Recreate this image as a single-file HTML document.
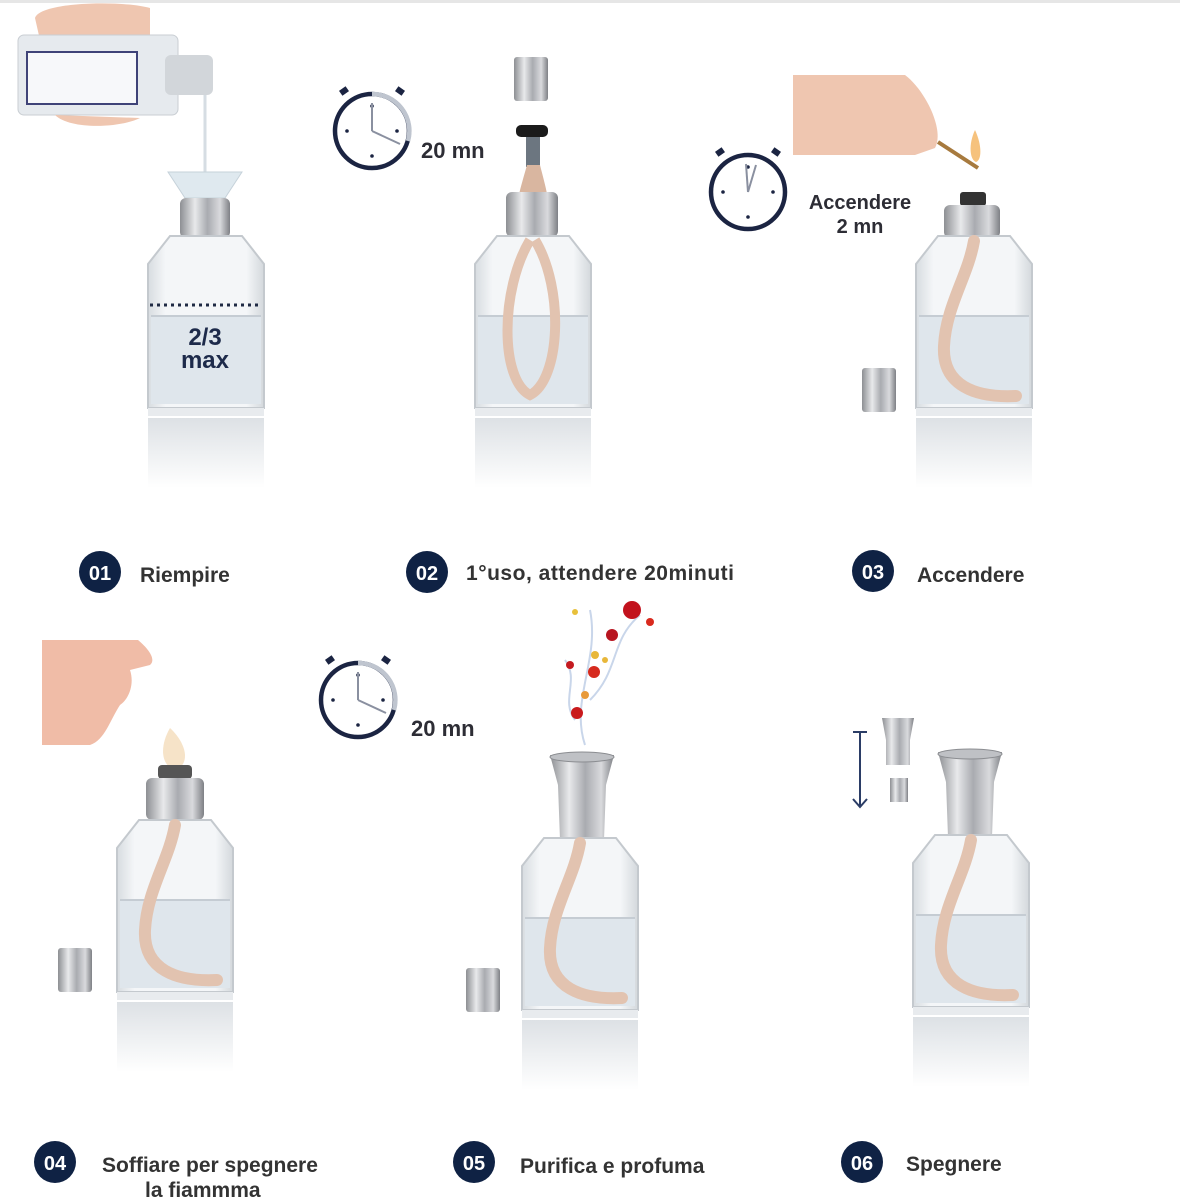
<!DOCTYPE html>
<html><head><meta charset="utf-8"><style>
html,body{margin:0;padding:0;background:#fff;}
svg{display:block;}
text{font-family:"Liberation Sans",sans-serif;}
</style></head><body>
<svg width="1180" height="1200" viewBox="0 0 1180 1200" xmlns="http://www.w3.org/2000/svg">
<defs>
 <linearGradient id="silver" x1="0" x2="1">
  <stop offset="0" stop-color="#8d8f93"/><stop offset="0.3" stop-color="#e8e9eb"/><stop offset="0.55" stop-color="#a9abb0"/><stop offset="0.8" stop-color="#d9dadd"/><stop offset="1" stop-color="#7e8085"/>
 </linearGradient>
 <linearGradient id="glass" x1="0" x2="1">
  <stop offset="0" stop-color="#d7dce0"/><stop offset="0.15" stop-color="#f4f6f8"/><stop offset="0.85" stop-color="#f4f6f8"/><stop offset="1" stop-color="#d3d8dc"/>
 </linearGradient>
 <linearGradient id="refl" x1="0" y1="0" x2="0" y2="1">
  <stop offset="0" stop-color="#dde1e5"/><stop offset="1" stop-color="#ffffff"/>
 </linearGradient>
 <g id="bottle">
  <path d="M0,28 L22,0 H94 L116,28 V172 H0 Z" fill="url(#glass)" stroke="#c4c9ce" stroke-width="2"/>
  <rect x="3" y="80" width="110" height="88" fill="#dfe6ec"/>
  <line x1="3" y1="80" x2="113" y2="80" stroke="#c5ccd3" stroke-width="2"/>
  <rect x="0" y="172" width="116" height="8" fill="#e8ebee"/>
  <rect x="0" y="182" width="116" height="70" fill="url(#refl)"/>
 </g>
 <g id="wick">
  <path d="M58,5 C52,40 30,70 28,110 C26,150 60,162 100,160" fill="none" stroke="#e2c3b0" stroke-width="12" stroke-linecap="round"/>
 </g>
 <g id="smallcap">
  <rect x="0" y="0" width="34" height="44" rx="3" fill="url(#silver)"/>
 </g>
 <g id="tulip">
  <path d="M0,0 H64 L56,30 L54,85 H10 L8,30 Z" fill="url(#silver)"/>
  <ellipse cx="32" cy="2" rx="32" ry="5" fill="#bfc1c5" stroke="#8b8d91"/>
 </g>
 <g id="dots">
  <circle cx="0" cy="-25" r="1.8" fill="#1b2442"/><circle cx="25" cy="0" r="1.8" fill="#1b2442"/>
  <circle cx="0" cy="25" r="1.8" fill="#1b2442"/><circle cx="-25" cy="0" r="1.8" fill="#1b2442"/>
 </g>
</defs>

<rect x="0" y="0" width="1180" height="3" fill="#e6e6e6"/>

<!-- STEP 1 -->
<path d="M35,18 C40,2 120,0 150,8 L150,40 L40,40 Z" fill="#efc6b0"/>
<rect x="18" y="35" width="160" height="80" rx="6" fill="#e6eaee" stroke="#c9ced3"/>
<rect x="27" y="52" width="110" height="52" fill="#f7f8fa" stroke="#3f4378" stroke-width="2"/>
<rect x="165" y="55" width="48" height="40" rx="6" fill="#d2d6da"/>
<path d="M55,115 C70,130 120,128 140,118" fill="#efc6b0"/>
<line x1="205" y1="95" x2="205" y2="178" stroke="#d6dde3" stroke-width="3"/>
<path d="M168,172 H242 L225,198 H185 Z" fill="#dfe9ef" stroke="#c6d2da"/>
<rect x="180" y="198" width="50" height="40" rx="6" fill="url(#silver)"/>
<use href="#bottle" x="148" y="236"/>
<line x1="150" y1="305" x2="262" y2="305" stroke="#1f2a44" stroke-width="3" stroke-dasharray="3,4"/>
<text x="205" y="345" text-anchor="middle" font-size="24" font-weight="bold" fill="#1d2a4a">2/3</text>
<text x="205" y="368" text-anchor="middle" font-size="24" font-weight="bold" fill="#1d2a4a">max</text>

<!-- STEP 2 -->
<g transform="translate(372,131)">
 <circle r="37" fill="none" stroke="#1b2442" stroke-width="4.5"/>
 <path d="M0,-37 A37,37 0 0 1 36,10" fill="none" stroke="#bfc5cf" stroke-width="4.5"/>
 <use href="#dots"/>
 <line x1="0" y1="0" x2="0" y2="-28" stroke="#8a90a0" stroke-width="2"/>
 <line x1="0" y1="0" x2="28" y2="13" stroke="#8a90a0" stroke-width="2"/>
 <rect x="-32" y="-43" width="8" height="6" fill="#1b2442" transform="rotate(-35 -28 -40)"/>
 <rect x="24" y="-43" width="8" height="6" fill="#1b2442" transform="rotate(35 28 -40)"/>
</g>
<text x="421" y="158" font-size="22" font-weight="bold" fill="#2d2d35">20 mn</text>
<rect x="514" y="57" width="34" height="44" rx="3" fill="url(#silver)"/>
<rect x="516" y="125" width="32" height="12" rx="5" fill="#1b1b1b"/>
<rect x="526" y="137" width="14" height="30" fill="#6c7680"/>
<path d="M527,165 C520,190 515,205 518,215 L548,215 C550,200 545,185 540,165 Z" fill="#d9b6a0"/>
<rect x="506" y="192" width="52" height="45" rx="6" fill="url(#silver)"/>
<use href="#bottle" x="475" y="236"/>
<path d="M530,240 C500,290 500,380 530,395 C560,380 565,290 535,240" fill="none" stroke="#e2c3b0" stroke-width="10"/>

<!-- STEP 3 -->
<g transform="translate(748,192)">
 <circle r="37" fill="none" stroke="#1b2442" stroke-width="4.5"/>
 <use href="#dots"/>
 <line x1="0" y1="0" x2="-2" y2="-28" stroke="#8a90a0" stroke-width="2"/>
 <line x1="0" y1="0" x2="8" y2="-27" stroke="#8a90a0" stroke-width="2"/>
 <rect x="-32" y="-43" width="8" height="6" fill="#1b2442" transform="rotate(-35 -28 -40)"/>
 <rect x="24" y="-43" width="8" height="6" fill="#1b2442" transform="rotate(35 28 -40)"/>
</g>
<text x="860" y="209" text-anchor="middle" font-size="20" font-weight="bold" fill="#2d2d35">Accendere</text>
<text x="860" y="233" text-anchor="middle" font-size="20" font-weight="bold" fill="#2d2d35">2 mn</text>
<path d="M793,75 H905 C925,90 945,130 935,148 L915,155 H793 Z" fill="#efc6b0"/>
<line x1="938" y1="142" x2="978" y2="168" stroke="#a77a3e" stroke-width="4"/>
<path d="M975,130 C968,145 970,160 976,162 C982,160 982,145 975,130 Z" fill="#f6c27d"/>
<rect x="960" y="192" width="26" height="14" rx="3" fill="#333"/>
<rect x="944" y="205" width="56" height="33" rx="6" fill="url(#silver)"/>
<use href="#bottle" x="916" y="236"/>
<use href="#wick" x="916" y="236"/>
<use href="#smallcap" x="862" y="368"/>

<!-- LABELS ROW 1 -->
<g font-size="21" font-weight="bold" fill="#333">
 <circle cx="100" cy="572" r="21" fill="#0f2244"/><text x="100" y="580" text-anchor="middle" fill="#fff" font-size="20">01</text>
 <text x="140" y="582">Riempire</text>
 <circle cx="427" cy="572" r="21" fill="#0f2244"/><text x="427" y="580" text-anchor="middle" fill="#fff" font-size="20">02</text>
 <text x="466" y="580" textLength="268">1°uso, attendere 20minuti</text>
 <circle cx="873" cy="571" r="21" fill="#0f2244"/><text x="873" y="579" text-anchor="middle" fill="#fff" font-size="20">03</text>
 <text x="917" y="582">Accendere</text>
</g>

<!-- STEP 4 -->
<path d="M42,640 H138 C150,650 156,660 150,665 L130,670 C135,685 128,700 120,705 C110,720 105,740 90,745 H42 Z" fill="#f0bca7"/>
<path d="M170,728 C160,745 160,765 175,770 C190,765 188,745 170,728 Z" fill="#f6e3c8"/>
<rect x="158" y="765" width="34" height="14" rx="4" fill="#555"/>
<rect x="146" y="778" width="58" height="42" rx="6" fill="url(#silver)"/>
<use href="#bottle" x="117" y="820"/>
<use href="#wick" x="117" y="820"/>
<use href="#smallcap" x="58" y="948"/>

<g transform="translate(358,700)">
 <circle r="37" fill="none" stroke="#1b2442" stroke-width="4.5"/>
 <path d="M0,-37 A37,37 0 0 1 36,10" fill="none" stroke="#bfc5cf" stroke-width="4.5"/>
 <use href="#dots"/>
 <line x1="0" y1="0" x2="0" y2="-28" stroke="#8a90a0" stroke-width="2"/>
 <line x1="0" y1="0" x2="28" y2="13" stroke="#8a90a0" stroke-width="2"/>
 <rect x="-32" y="-43" width="8" height="6" fill="#1b2442" transform="rotate(-35 -28 -40)"/>
 <rect x="24" y="-43" width="8" height="6" fill="#1b2442" transform="rotate(35 28 -40)"/>
</g>
<text x="411" y="736" font-size="22" font-weight="bold" fill="#2d2d35">20 mn</text>

<!-- STEP 5 -->
<path d="M585,745 C570,700 600,660 590,610" fill="none" stroke="#c9d6ea" stroke-width="2"/>
<path d="M590,700 C620,670 610,640 640,615" fill="none" stroke="#c9d6ea" stroke-width="2"/>
<path d="M575,720 C560,700 580,680 565,660" fill="none" stroke="#c9d6ea" stroke-width="2"/>
<circle cx="632" cy="610" r="9" fill="#c2121d"/>
<circle cx="612" cy="635" r="6" fill="#b81520"/>
<circle cx="594" cy="672" r="6" fill="#d62a1e"/>
<circle cx="570" cy="665" r="4" fill="#c41a20"/>
<circle cx="577" cy="713" r="6" fill="#c91a1d"/>
<circle cx="595" cy="655" r="4" fill="#e8b73a"/>
<circle cx="605" cy="660" r="3" fill="#e8b73a"/>
<circle cx="585" cy="695" r="4" fill="#e89a3a"/>
<circle cx="650" cy="622" r="4" fill="#d92a1e"/>
<circle cx="575" cy="612" r="3" fill="#e8c03a"/>
<use href="#tulip" x="550" y="755"/>
<use href="#bottle" x="522" y="838"/>
<use href="#wick" x="522" y="838"/>
<use href="#smallcap" x="466" y="968"/>

<!-- STEP 6 -->
<line x1="860" y1="732" x2="860" y2="806" stroke="#2b3d66" stroke-width="2"/>
<line x1="853" y1="732" x2="867" y2="732" stroke="#2b3d66" stroke-width="2"/>
<path d="M853,799 L860,807 L867,799" fill="none" stroke="#2b3d66" stroke-width="2"/>
<path d="M882,718 H914 L910,740 V765 H886 V740 Z" fill="url(#silver)"/>
<rect x="890" y="778" width="18" height="24" fill="url(#silver)"/>
<use href="#tulip" x="938" y="752"/>
<use href="#bottle" x="913" y="835"/>
<use href="#wick" x="913" y="835"/>

<!-- LABELS ROW 2 -->
<g font-size="21" font-weight="bold" fill="#333">
 <circle cx="55" cy="1162" r="21" fill="#0f2244"/><text x="55" y="1170" text-anchor="middle" fill="#fff" font-size="20">04</text>
 <text x="102" y="1172">Soffiare per spegnere</text>
 <text x="145" y="1197">la fiammma</text>
 <circle cx="474" cy="1162" r="21" fill="#0f2244"/><text x="474" y="1170" text-anchor="middle" fill="#fff" font-size="20">05</text>
 <text x="520" y="1173">Purifica e profuma</text>
 <circle cx="862" cy="1162" r="21" fill="#0f2244"/><text x="862" y="1170" text-anchor="middle" fill="#fff" font-size="20">06</text>
 <text x="906" y="1171">Spegnere</text>
</g>
</svg>
</body></html>
